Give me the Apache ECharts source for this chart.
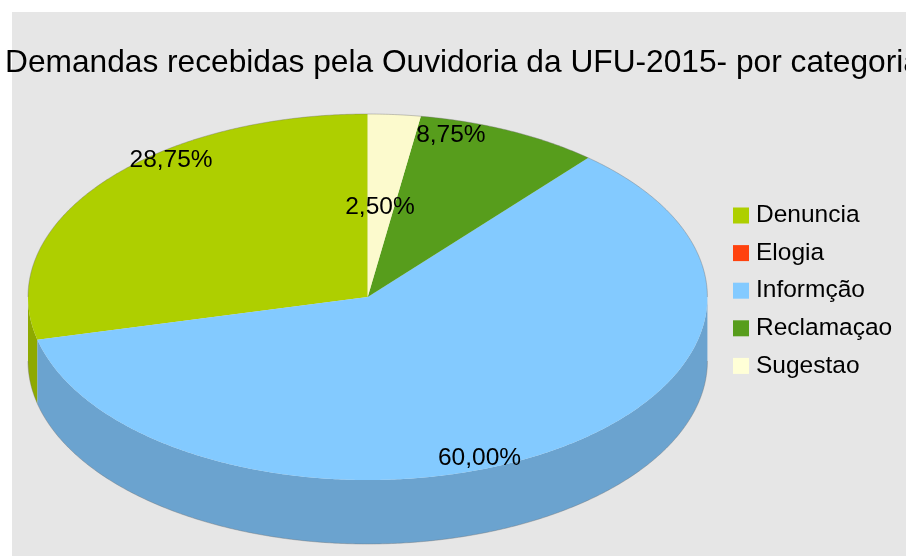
<!DOCTYPE html>
<html>
<head>
<meta charset="utf-8">
<style>html,body{margin:0;padding:0;background:#fff}#c{width:906px;height:556px}</style>
<script src="https://cdn.jsdelivr.net/npm/echarts@6/dist/echarts.min.js"></script>
</head>
<body>
<div id="c"></div>
<script>
const chartTitle = "Demandas recebidas pela Ouvidoria da UFU-2015- por categoria";
const categories = ["Denuncia", "Elogia", "Informção", "Reclamaçao", "Sugestao"];
const values = [28.75, 0, 60.00, 8.75, 2.50];
const valueLabels = ["28,75%", "", "60,00%", "8,75%", "2,50%"];

const topColors = ["#aecf00", "#ff420e", "#83caff", "#579d1c", "#fcfacd"];
const sideColors = ["#8ea900", "#d03609", "#6ba3cf", "#47801a", "#cfcda8"];
const legendColors = ["#aecf00", "#ff420e", "#83caff", "#579d1c", "#ffffd7"];
const labelFactors = [[0.737, 1.205], [0, 0], [0.63, 1.035], [0.585, 0.975], [0.46, 0.49]];

const pie = {cx: 367.7, cy: 297, rx: 339.7, ry: 183, depth: 64};
const total = values.reduce((a, b) => a + b, 0);

// Slices run clockwise from 12 o'clock, last category first.
function sliceStart(i) {
  let s = 0;
  for (let k = values.length - 1; k > i; k--) s += values[k];
  return s / total * 360;
}
function pt(deg, dy) {
  const r = deg * Math.PI / 180;
  return [pie.cx + pie.rx * Math.sin(r), pie.cy - pie.ry * Math.cos(r) + (dy || 0)];
}
function arc(a, b, dy) {
  const out = [], n = Math.max(1, Math.ceil(Math.abs(b - a) * 2));
  for (let j = 0; j <= n; j++) out.push(pt(a + (b - a) * j / n, dy));
  return out;
}
const edge = {stroke: "rgba(110,110,110,0.38)", fill: null, lineWidth: 1};

function makeRender(i) {
  return function (params, api) {
    const v = api.value(0);
    const children = [];
    if (v <= 0) return {type: "group", children};
    const a = sliceStart(i), b = a + v / total * 360;
    // visible rim: the front half of the ellipse, 90..270 degrees
    const sa = Math.max(a, 90), sb = Math.min(b, 270);
    if (sb > sa) {
      const upper = arc(sa, sb, 0), lower = arc(sb, sa, pie.depth);
      children.push({type: "polygon", z2: 1, shape: {points: upper.concat(lower)},
        style: {fill: sideColors[i]}});
      children.push({type: "polyline", z2: 3, shape: {points: arc(sa, sb, pie.depth)}, style: edge});
    }
    children.push({type: "polygon", z2: 2,
      shape: {points: [[pie.cx, pie.cy]].concat(arc(a, b, 0))},
      style: {fill: topColors[i]}});
    if (b > 270) children.push({type: "polyline", z2: 3, shape: {points: arc(Math.max(a, 270), b, 0)}, style: edge});
    if (a < 90) children.push({type: "polyline", z2: 3, shape: {points: arc(a, Math.min(b, 90), 0)}, style: edge});
    const mid = (a + b) / 2 * Math.PI / 180;
    children.push({type: "text", z2: 100, style: {
      x: pie.cx + pie.rx * Math.sin(mid) * labelFactors[i][0],
      y: pie.cy - pie.ry * Math.cos(mid) * labelFactors[i][1],
      text: valueLabels[i], fill: "#000", align: "center", verticalAlign: "middle",
      font: "24.5px 'Liberation Sans'"}});
    return {type: "group", children};
  };
}

const chart = echarts.init(document.getElementById("c"), null, {renderer: "canvas"});
chart.setOption({
  animation: false,
  backgroundColor: "#ffffff",
  tooltip: {show: false},
  graphic: [{type: "rect", z: -10, silent: true, shape: {x: 12, y: 12, width: 894, height: 544}, style: {fill: "#e6e6e6"}}],
  title: {text: chartTitle, left: 0, top: 42,
    textStyle: {fontFamily: "Liberation Sans", fontSize: 31.7, fontWeight: "normal", color: "#000"}},
  legend: {
    orient: "vertical", left: 728, top: 196, itemWidth: 16, itemHeight: 16, itemGap: 8.6,
    icon: "rect", selectedMode: false,
    textStyle: {fontFamily: "Liberation Sans", fontSize: 24.5, color: "#000", padding: [0, 0, 0, 2], lineHeight: 29},
    data: categories.map((c, i) => ({name: c, itemStyle: {color: legendColors[i]}}))
  },
  series: categories.map((c, i) => ({
    type: "custom", name: c, coordinateSystem: "none", silent: true,
    itemStyle: {color: topColors[i]},
    data: [[values[i]]],
    renderItem: makeRender(i)
  }))
});
</script>
</body>
</html>
